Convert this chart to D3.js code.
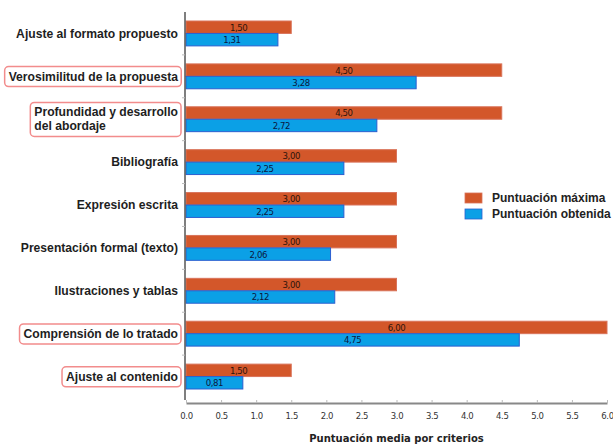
<!DOCTYPE html>
<html>
<head>
<meta charset="utf-8">
<script src="https://cdn.jsdelivr.net/npm/d3@7"></script>
<style>
  html, body { margin: 0; padding: 0; background: #fff; }
  svg { display: block; }
</style>
</head>
<body>
<svg id="chart" width="613" height="445"></svg>
<script>
// Evaluation criteria (top to bottom)
const categories = [
  "Ajuste al formato propuesto",
  "Verosimilitud de la propuesta",
  "Profundidad y desarrollo del abordaje",
  "Bibliografía",
  "Expresión escrita",
  "Presentación formal (texto)",
  "Ilustraciones y tablas",
  "Comprensión de lo tratado",
  "Ajuste al contenido"
];
// Label lines (some criteria wrap onto two lines)
const categoryLines = [
  ["Ajuste al formato propuesto"],
  ["Verosimilitud de la propuesta"],
  ["Profundidad y desarrollo", "del abordaje"],
  ["Bibliografía"],
  ["Expresión escrita"],
  ["Presentación formal (texto)"],
  ["Ilustraciones y tablas"],
  ["Comprensión de lo tratado"],
  ["Ajuste al contenido"]
];
// Criteria highlighted with a framed label
const highlighted = [
  "Verosimilitud de la propuesta",
  "Profundidad y desarrollo del abordaje",
  "Comprensión de lo tratado",
  "Ajuste al contenido"
];
const seriesNames = ["Puntuación máxima", "Puntuación obtenida"];
const maxScores = [1.50, 4.50, 4.50, 3.00, 3.00, 3.00, 3.00, 6.00, 1.50];
const obtainedScores = [1.31, 3.28, 2.72, 2.25, 2.25, 2.06, 2.12, 4.75, 0.81];
const xTicks = [0, 0.5, 1, 1.5, 2, 2.5, 3, 3.5, 4, 4.5, 5, 5.5, 6];
const xTitle = "Puntuación media por criterios";

const colors = { fill: ["#d3572a", "#0ba0e6"], stroke: ["#d9735a", "#2b5fd0"], text: ["#2e140b", "#0a1740"] };

const svg = d3.select("#chart");
const plotLeft = 186, plotRight = 607, plotTop = 12, plotBottom = 398;

const x = d3.scaleLinear().domain([0, 6]).range([plotLeft, plotRight]);
const y = d3.scaleBand().domain(categories).range([plotTop, plotBottom]).paddingInner(0.42).paddingOuter(0.21);
const ySub = d3.scaleBand().domain(seriesNames).range([0, y.bandwidth()]);

const series = [maxScores, obtainedScores];
const fmt = v => d3.format(".2f")(v).replace(".", ",");

// Bars
const groups = svg.append("g").selectAll("g")
  .data(categories)
  .join("g")
  .attr("transform", d => `translate(0,${y(d)})`);

seriesNames.forEach((s, si) => {
  groups.append("rect")
    .attr("x", x(0))
    .attr("y", ySub(s))
    .attr("width", (d, i) => x(series[si][i]) - x(0))
    .attr("height", ySub.bandwidth())
    .attr("fill", colors.fill[si])
    .attr("stroke", colors.stroke[si])
    .attr("stroke-width", 1);
  groups.append("text")
    .attr("x", (d, i) => (x(0) + x(series[si][i])) / 2)
    .attr("y", ySub(s) + ySub.bandwidth() / 2)
    .attr("dy", "0.36em")
    .attr("text-anchor", "middle")
    .attr("font-family", "DejaVu Sans Condensed, DejaVu Sans, sans-serif")
    .attr("font-size", 9.5)
    .attr("letter-spacing", -0.4)
    .attr("fill", colors.text[si])
    .text((d, i) => fmt(series[si][i]));
});

// Vertical axis line with ticks at group boundaries
const yAxis = svg.append("g");
yAxis.append("line")
  .attr("x1", plotLeft - 1).attr("x2", plotLeft - 1)
  .attr("y1", plotTop).attr("y2", plotBottom + 2)
  .attr("stroke", "#555").attr("stroke-width", 1.5);
const step = y.step();
categories.forEach((c, i) => {
  if (i === 0) return;
  const yy = y(c) - step * y.paddingInner() / 2;
  yAxis.append("line")
    .attr("x1", plotLeft - 4).attr("x2", plotLeft - 1)
    .attr("y1", yy).attr("y2", yy)
    .attr("stroke", "#bbb").attr("stroke-width", 1);
});

// Category labels
const labelRight = 178;
categories.forEach((c, i) => {
  const lines = categoryLines[i];
  const cy = y(c) + y.bandwidth() / 2;
  const lh = 14;
  const g = svg.append("g");
  const t = g.append("text")
    .attr("font-family", "Liberation Sans, Arial, sans-serif")
    .attr("font-weight", "bold")
    .attr("font-size", 12.15)
    .attr("fill", "#1e1e1e");
  if (lines.length === 1) {
    t.attr("x", labelRight).attr("y", cy).attr("dy", "0.35em")
      .attr("text-anchor", "end").text(lines[0]);
  } else {
    // measure the widest line, then left-align the block so it ends at labelRight
    const tmp = t.append("tspan").text(lines[0]);
    const w = tmp.node().getComputedTextLength();
    tmp.remove();
    lines.forEach((ln, li) => {
      t.append("tspan")
        .attr("x", labelRight - w)
        .attr("y", cy + (li - (lines.length - 1) / 2) * lh)
        .attr("dy", "0.35em")
        .text(ln);
    });
  }
  if (highlighted.includes(c)) {
    const bb = t.node().getBBox();
    g.insert("rect", "text")
      .attr("x", bb.x - 4)
      .attr("y", bb.y - 3)
      .attr("width", bb.width + 7)
      .attr("height", bb.height + 6)
      .attr("rx", 4)
      .attr("fill", "none")
      .attr("stroke", "#f28c8c")
      .attr("stroke-width", 1.5);
  }
});

// X axis
const xAxisY = 403;
const xAxis = svg.append("g").attr("transform", `translate(0,${xAxisY})`)
  .call(d3.axisBottom(x).tickValues(xTicks).tickFormat(d3.format(".1f")).tickSize(0).tickPadding(10));
xAxis.select(".domain").attr("stroke", "#888").attr("stroke-width", 2);
xAxis.selectAll(".tick line").remove();
xAxis.selectAll(".tick").append("line")
  .attr("y1", -3).attr("y2", 0).attr("stroke", "#bbb");
xAxis.selectAll(".tick text")
  .attr("font-family", "DejaVu Sans, sans-serif")
  .attr("font-size", 8.5)
  .attr("letter-spacing", -0.4)
  .attr("fill", "#333");

svg.append("text")
  .attr("x", (plotLeft + plotRight) / 2)
  .attr("y", 442)
  .attr("text-anchor", "middle")
  .attr("font-family", "DejaVu Sans, sans-serif")
  .attr("font-weight", "bold")
  .attr("font-size", 10)
  .attr("fill", "#222")
  .text(xTitle);

// Legend
const legend = svg.append("g").attr("transform", "translate(465,193)");
seriesNames.forEach((s, i) => {
  const row = legend.append("g").attr("transform", `translate(0,${i * 16})`);
  row.append("rect")
    .attr("width", 17).attr("height", 10)
    .attr("fill", colors.fill[i])
    .attr("stroke", colors.stroke[i]).attr("stroke-width", 0.8);
  row.append("text")
    .attr("x", 27).attr("y", 5).attr("dy", "0.35em")
    .attr("font-family", "Liberation Sans, Arial, sans-serif")
    .attr("font-weight", "bold")
    .attr("font-size", 12)
    .attr("fill", "#222")
    .text(s);
});
</script>
</body>
</html>
